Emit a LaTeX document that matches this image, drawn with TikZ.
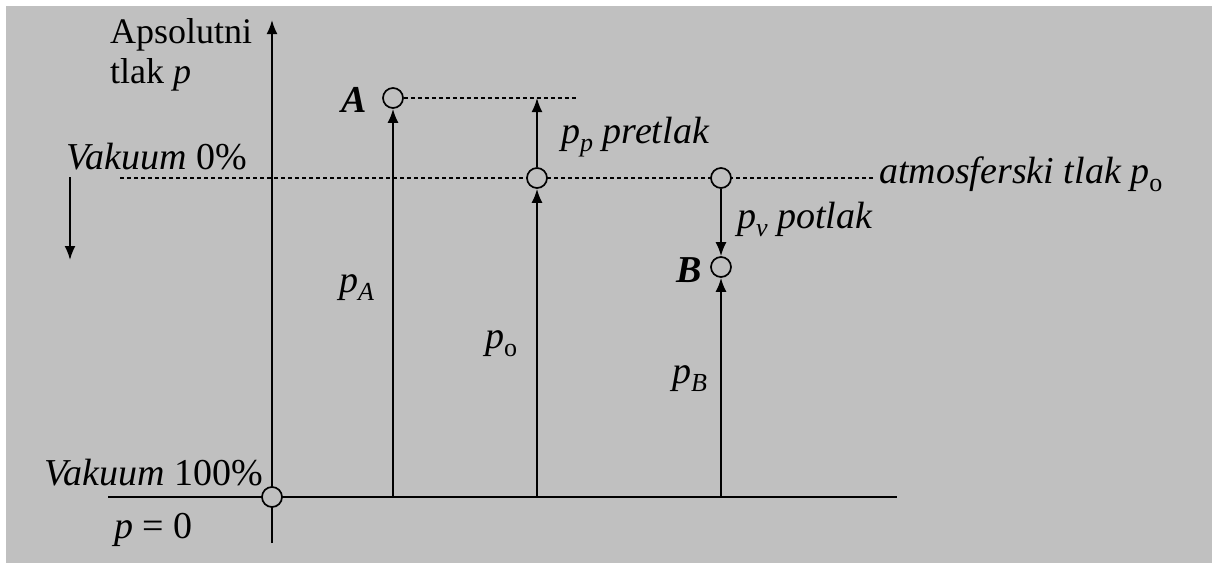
\documentclass[tikz,border=0pt]{standalone}
\usepackage{fontspec}
\setmainfont{Liberation Serif}
\usetikzlibrary{arrows.meta}
\definecolor{bg}{HTML}{C0C0C0}
\newcommand{\sbs}[1]{\raisebox{-0.22em}{\fontsize{26}{26}\selectfont #1}}
\begin{document}
\begin{tikzpicture}[x=1pt,y=-1pt,
  pt/.style={circle,draw,line width=1.7pt,fill=bg,minimum size=20pt,inner sep=0pt},
  ln/.style={line width=1.9pt},
  arr/.style={ln,-{Latex[length=14pt,width=11pt]}},
  dot/.style={line width=1.5pt,dash pattern=on 4pt off 3pt},
  lbl/.style={inner sep=0pt,anchor=base west,font=\fontsize{38}{40}\selectfont}]
\fill[white] (0,0) rectangle (1212,563);
\fill[bg] (6,6) rectangle (1212,563);
% coordinates
\coordinate (axb) at (272,543);
\coordinate (axt) at (272,20);
\coordinate (bl) at (108,497);
\coordinate (br) at (897,497);
\coordinate (atmL) at (120,178);
\coordinate (atmR) at (875,178);
\coordinate (Ab) at (393,497);
\coordinate (Ad) at (577,98);
\coordinate (ppT) at (537,98);
\coordinate (P0b) at (537,497);
\coordinate (Bb) at (721,497);
\coordinate (v1) at (70,177);
\coordinate (v2) at (70,260);
% lines behind the circles
\draw[dot] (atmL) -- (atmR);
\draw[ln] (bl) -- (br);
\draw[arr] (axb) -- (axt);
\draw[arr] (v1) -- (v2);
% circles
\node[pt] (O) at (272,497) {};
\node[pt] (A) at (393,98) {};
\node[pt] (P0) at (537,178) {};
\node[pt] (C) at (721,178) {};
\node[pt] (B) at (721,267) {};
% connectors
\draw[dot] (A.east) -- (Ad);
\draw[arr] (Ab) -- (A.south);
\draw[arr] (P0.north) -- (ppT);
\draw[arr] (P0b) -- (P0.south);
\draw[arr] (C.south) -- (B.north);
\draw[arr] (Bb) -- (B.south);
% labels
\node[lbl,font=\fontsize{36}{40}\selectfont] (t1) at (110,43) {Apsolutni};
\node[lbl,font=\fontsize{36}{40}\selectfont] (t2) at (110,83) {tlak \textit{p}};
\node[lbl] (tA) at (341,112) {\textbf{\textit{A}}};
\node[lbl] (tB) at (676,282) {\textbf{\textit{B}}};
\node[lbl] (tv0) at (66,169) {\textit{Vakuum} 0\%};
\node[lbl] (tpp) at (561,143) {\textit{p\sbs{p} pretlak}};
\node[lbl] (tpv) at (737,228) {\textit{p\sbs{v} potlak}};
\node[lbl] (tatm) at (879,183) {\textit{atmosferski tlak p}\sbs{o}};
\node[lbl] (tpA) at (339,292) {\textit{p\sbs{A}}};
\node[lbl] (tpo) at (485,348) {\textit{p}\sbs{o}};
\node[lbl] (tpB) at (672,383) {\textit{p\sbs{B}}};
\node[lbl] (tv100) at (44,485) {\textit{Vakuum} 100\%};
\node[lbl] (tp0) at (114,538) {\textit{p} = 0};
\end{tikzpicture}
\end{document}
